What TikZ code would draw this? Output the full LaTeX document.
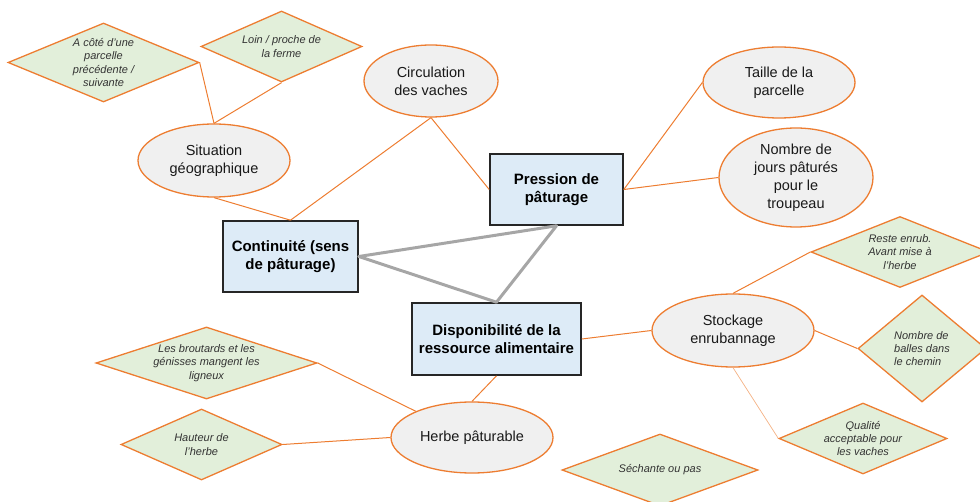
\documentclass[tikz,border=0pt]{standalone}
\usepackage{fontspec}
\setmainfont{Liberation Sans}
\usepackage{tikz}
\usetikzlibrary{shapes, positioning}

\definecolor{orangeline}{HTML}{ED7D31}
\definecolor{lightorange}{HTML}{F4B183}
\definecolor{ovalfill}{HTML}{F0F0F0}
\definecolor{diamfill}{HTML}{E2EFDA}
\definecolor{boxfill}{HTML}{DDEBF7}
\definecolor{grayline}{HTML}{A6A6A6}
\definecolor{textgray}{HTML}{333333}

\begin{document}
\begin{tikzpicture}[x=1pt, y=-1pt,
		oval/.style={ellipse, draw=orangeline, line width=1.3pt, fill=ovalfill, inner sep=0pt, align=center, text=black!90, font=\fontsize{14.5}{18}\selectfont},
		crit/.style={diamond, draw=orangeline, line width=1.3pt, fill=diamfill, inner sep=0pt, align=center, text=textgray, font=\fontsize{11}{13.3}\selectfont\itshape},
		theme/.style={rectangle, draw=black!85, line width=1.6pt, fill=boxfill, inner sep=0pt, align=center, font=\fontsize{15}{18}\selectfont\bfseries},
		link/.style={orangeline, line width=1pt},
		thinlink/.style={lightorange, line width=0.7pt},
		tie/.style={grayline, line width=3pt}]
		\useasboundingbox (0,0) rectangle (980,502);
		
		% 主题框
		\node (pression) at (556.5,189.5) [theme, minimum width=133pt, minimum height=71pt] {Pression de\\pâturage};
		\node (continuite) at (290.5,256.5) [theme, minimum width=135pt, minimum height=71pt] {Continuité (sens\\de pâturage)};
		\node (dispo) at (496.5,339) [theme, minimum width=169pt, minimum height=72pt] {Disponibilité de la\\ressource alimentaire};
		
		% 椭圆
		\node (situation) at (214,160.5) [oval, minimum width=152pt, minimum height=73pt] {Situation\\géographique};
		\node (circulation) at (431,81) [oval, minimum width=134pt, minimum height=72pt] {Circulation\\des vaches};
		\node (taille) at (779,82.5) [oval, minimum width=152pt, minimum height=71pt] {Taille de la\\parcelle};
		\node (jours) at (796,177.5) [oval, minimum width=154pt, minimum height=99pt] {Nombre de\\jours pâturés\\pour le\\troupeau};
		\node (stockage) at (733,330.5) [oval, minimum width=162pt, minimum height=73pt] {Stockage\\enrubannage};
		\node (herbe) at (472,437.5) [oval, minimum width=162pt, minimum height=71pt] {Herbe pâturable};
		
		% 菱形
		\node (cote) at (103.5,62.5) [crit, minimum width=191pt, minimum height=79pt, aspect=2.42] {A côté d’une\\parcelle\\précédente /\\suivante};
		\node (ferme) at (281.5,46.5) [crit, minimum width=161pt, minimum height=71pt, aspect=2.27] {Loin / proche de\\la ferme};
		\node (reste) at (900,252) [crit, minimum width=178pt, minimum height=71pt, aspect=2.5] {Reste enrub.\\Avant mise à\\l’herbe};
		\node (balles) at (922,348.5) [crit, minimum width=128pt, minimum height=107pt, aspect=1.2, align=left] {Nombre de\\balles dans\\le chemin};
		\node (qualite) at (863,438.5) [crit, minimum width=168pt, minimum height=71pt, aspect=2.37] {Qualité\\acceptable pour\\les vaches};
		\node (sechante) at (660,470) [crit, minimum width=196pt, minimum height=72pt, aspect=2.72] {Séchante ou pas};
		\node (broutards) at (206.5,363) [crit, minimum width=221pt, minimum height=72pt, aspect=3.07] {Les broutards et les\\génisses mangent les\\ligneux};
		\node (hauteur) at (201.5,444.5) [crit, minimum width=161pt, minimum height=71pt, aspect=2.27] {Hauteur de\\l’herbe};
		
		% 橙色连线
		\draw[link] (situation.north) -- (cote.east);
		\draw[link] (situation.north) -- (ferme.south);
		\draw[link] (situation.south) -- (continuite.north);
		\draw[link] (continuite.north) -- (circulation.south);
		\draw[link] (circulation.south) -- (pression.west);
		\draw[link] (pression.east) -- (taille.west);
		\draw[link] (pression.east) -- (jours.west);
		\draw[link] (dispo.east) -- (stockage.west);
		\draw[link] (stockage.north) -- (reste.west);
		\draw[link] (stockage.east) -- (balles.west);
		\draw[thinlink] (stockage.south) -- (qualite.west);
		\draw[link] (dispo.south) -- (herbe.north);
		\draw[link] (herbe.155) -- (broutards.east);
		\draw[link] (herbe.west) -- (hauteur.east);
		
		% 灰色三角
		\draw[tie, line join=round] (continuite.east) -- (pression.south) -- (dispo.north) -- cycle;
	\end{tikzpicture}
\end{document}
